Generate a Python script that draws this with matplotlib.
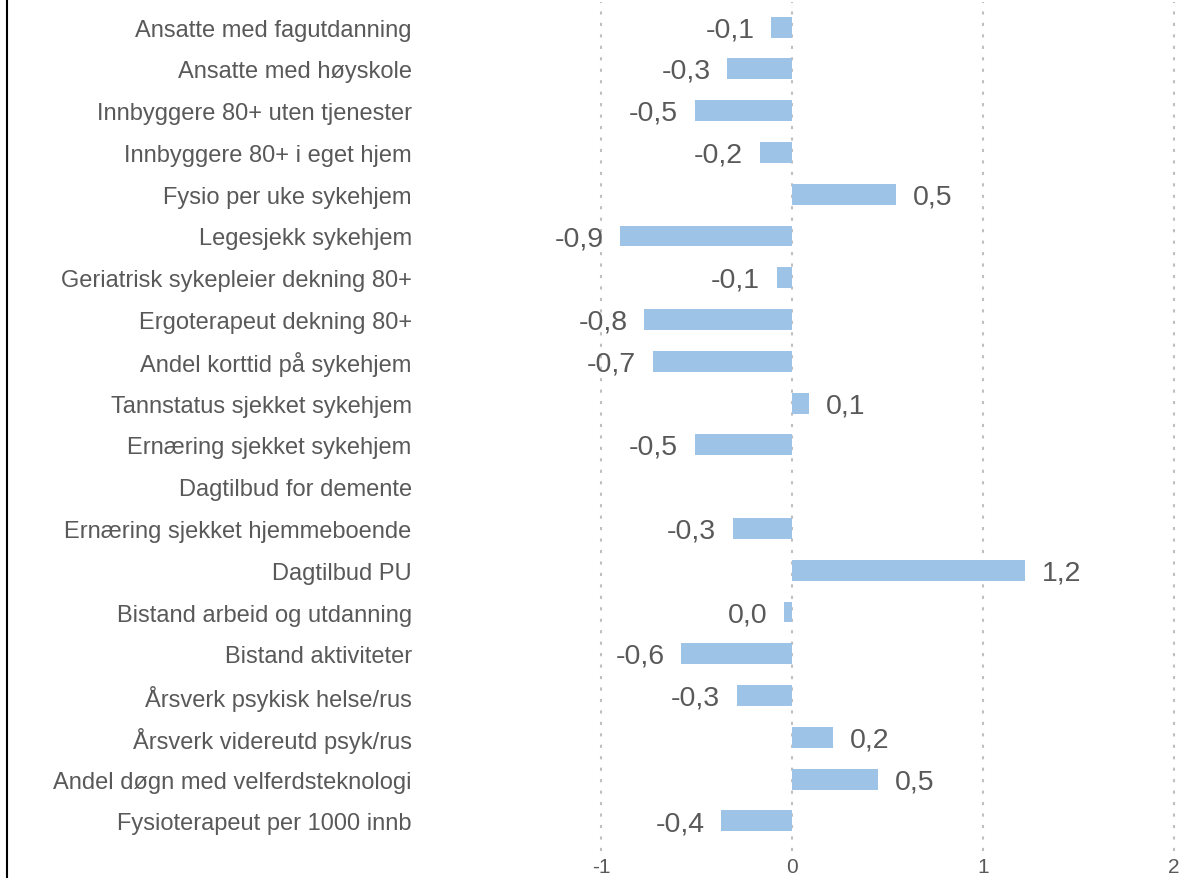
import numpy as np
import matplotlib.pyplot as plt
from matplotlib.lines import Line2D

plt.rcParams['font.family'] = ['Liberation Sans', 'DejaVu Sans']

categories = ["Ansatte med fagutdanning", "Ansatte med høyskole",
              "Innbyggere 80+ uten tjenester", "Innbyggere 80+ i eget hjem",
              "Fysio per uke sykehjem", "Legesjekk sykehjem",
              "Geriatrisk sykepleier dekning 80+", "Ergoterapeut dekning 80+",
              "Andel korttid på sykehjem", "Tannstatus sjekket sykehjem",
              "Ernæring sjekket sykehjem", "Dagtilbud for demente",
              "Ernæring sjekket hjemmeboende", "Dagtilbud PU",
              "Bistand arbeid og utdanning", "Bistand aktiviteter",
              "Årsverk psykisk helse/rus", "Årsverk videreutd psyk/rus",
              "Andel døgn med velferdsteknologi", "Fysioterapeut per 1000 innb"]
values = [-0.11, -0.34, -0.51, -0.17, 0.545, -0.90, -0.08, -0.775, -0.73, 0.09,
          -0.51, np.nan, -0.31, 1.22, -0.04, -0.58, -0.29, 0.215, 0.45, -0.37]
xticks = [-1, 0, 1, 2]

grey = "#595959"
bar_col = "#9DC3E6"

W, H = 1199, 879
fig = plt.figure(figsize=(W / 100, H / 100), dpi=100)
ax = fig.add_axes([420 / W, 1 - 852 / H, (1178 - 420) / W, (852 - 3) / H])

y = np.arange(len(categories))
ax.barh(y, values, height=0.5, color=bar_col, zorder=2)

for yi, v in zip(y, values):
    if np.isnan(v):
        continue
    txt = f"{round(v, 1) + 0.0:.1f}".replace(".", ",")
    if txt == "-0,0":
        txt = "0,0"
    if v >= 0:
        ax.annotate(txt, (v, yi), xytext=(12, -1.5), textcoords="offset points",
                    ha="left", va="center", fontsize=20.5, color=grey)
    else:
        ax.annotate(txt, (v, yi), xytext=(-12, -1.5), textcoords="offset points",
                    ha="right", va="center", fontsize=20.5, color=grey)

ax.set_xlim(-1.948, 2.02)
ax.set_ylim(19.72, -0.6)
ax.set_yticks(y)
ax.set_yticklabels(categories, fontsize=17, color=grey)
ax.set_xticks(xticks)
ax.set_xticklabels([str(t) for t in xticks], fontsize=15, color=grey)
ax.tick_params(axis="both", length=0)
ax.tick_params(axis="y", pad=6)
ax.tick_params(axis="x", pad=4)
for s in ax.spines.values():
    s.set_visible(False)
ax.grid(axis="x", color="#BFBFBF", linestyle=(0, (1.5, 4)), linewidth=1.5, zorder=1)

fig.add_artist(Line2D([7 / W, 7 / W], [0, 1], color="black", linewidth=1.5,
                      transform=fig.transFigure))

fig.savefig("out.png", dpi=100)
